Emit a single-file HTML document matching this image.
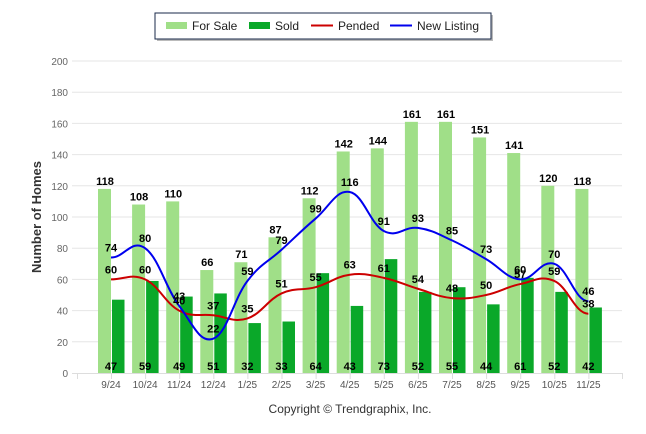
<!DOCTYPE html>
<html><head><meta charset="utf-8"><style>
html,body{margin:0;padding:0;background:#fff;}
svg{display:block;font-family:"Liberation Sans",Arial,sans-serif;}
</style></head><body>
<svg id="c" width="646" height="434" viewBox="0 0 646 434" xmlns="http://www.w3.org/2000/svg">
<rect x="157" y="15" width="336" height="26" fill="#bbb"/>
<rect x="155" y="13" width="336" height="26" fill="#fff" stroke="#1a2a4a" stroke-width="1"/>
<rect x="166" y="22" width="21" height="7" fill="#a0df88"/>
<text x="192" y="30" font-size="12" fill="#222">For Sale</text>
<rect x="249" y="22" width="21" height="7" fill="#0aa829"/>
<text x="275" y="30" font-size="12" fill="#222">Sold</text>
<line x1="311" y1="25.5" x2="333" y2="25.5" stroke="#cc0000" stroke-width="2"/>
<text x="338" y="30" font-size="12" fill="#222">Pended</text>
<line x1="390" y1="25.5" x2="412" y2="25.5" stroke="#0000ee" stroke-width="2"/>
<text x="417" y="30" font-size="12" fill="#222">New Listing</text>
<g id="grid"></g>
<g id="bars"></g>
<g id="lines"></g>
<g id="labels" font-size="11" font-weight="bold" fill="#000" text-anchor="middle"></g>
<text transform="translate(41,217) rotate(-90)" text-anchor="middle" font-size="13" font-weight="bold" fill="#333">Number of Homes</text>
<text x="350" y="413" text-anchor="middle" font-size="12" fill="#333">Copyright © Trendgraphix, Inc.</text>
</svg>
<script>
var fs=[118,108,110,66,71,87,112,142,144,161,161,151,141,120,118];
var sd=[47,59,49,51,32,33,64,43,73,52,55,44,61,52,42];
var pd=[60,60,40,37,35,51,55,63,61,54,48,50,57,59,38];
var nl=[74,80,43,22,59,79,99,116,91,93,85,73,60,70,46];
var cats=["9/24","10/24","11/24","12/24","1/25","2/25","3/25","4/25","5/25","6/25","7/25","8/25","9/25","10/25","11/25"];
function Y(v){return 373-v*1.56;}
function X(i){return 111+i*34.1;}
var ns="http://www.w3.org/2000/svg";
function el(p,t,a,txt){var e=document.createElementNS(ns,t);for(var k in a)e.setAttribute(k,a[k]);if(txt!=null)e.textContent=txt;document.getElementById(p).appendChild(e);return e;}
for(var v=0;v<=200;v+=20){var y=Y(v);if(v>0)el("grid","line",{x1:72,x2:622,y1:y,y2:y,stroke:"#e6e6e6","stroke-width":1});
el("grid","text",{x:68,y:y+4,"text-anchor":"end","font-size":"10",fill:"#666"},v);}
el("grid","line",{x1:72,x2:622,y1:373.5,y2:373.5,stroke:"#ddd"});
el("grid","line",{x1:77.5,x2:77.5,y1:373,y2:379,stroke:"#ddd"});
for(var i=0;i<15;i++){var x=X(i);
el("grid","line",{x1:x+0.5,x2:x+0.5,y1:373,y2:379,stroke:"#ddd"});
el("grid","text",{x:x,y:388,"text-anchor":"middle","font-size":"10",fill:"#555"},cats[i]);
el("bars","rect",{x:x-13,y:Y(fs[i]),width:13,height:fs[i]*1.56,fill:"#a0df88"});
el("bars","rect",{x:x+1,y:Y(sd[i]),width:12.5,height:sd[i]*1.56,fill:"#0aa829"});
}
el("grid","line",{x1:622.5,x2:622.5,y1:373,y2:379,stroke:"#ddd"});
function path(d){var p=d.map(function(v,i){return [X(i),Y(v)];});var s="M"+p[0][0]+","+p[0][1];
for(var i=0;i<p.length-1;i++){var a=p[i-1]||p[i],b=p[i],c=p[i+1],e=p[i+2]||c;
var c1=[b[0]+(c[0]-a[0])*0.2,b[1]+(c[1]-a[1])*0.2],c2=[c[0]-(e[0]-b[0])*0.2,c[1]-(e[1]-b[1])*0.2];
if(i==0)c1=[b[0]+(c[0]-b[0])*0.4,b[1]];if(i==p.length-2)c2=[c[0]-(c[0]-b[0])*0.4,c[1]];
s+=" C"+c1+" "+c2+" "+c;}return s;}
el("lines","path",{d:path(pd),fill:"none",stroke:"#cc0000","stroke-width":2});
el("lines","path",{d:path(nl),fill:"none",stroke:"#0000ee","stroke-width":2});
for(var i=0;i<15;i++){var x=X(i);
el("labels","text",{x:x-6,y:Y(fs[i])-4},fs[i]);
el("labels","text",{x:x,y:370},sd[i]);
el("labels","text",{x:x,y:Y(pd[i])-6},pd[i]);
el("labels","text",{x:x,y:Y(nl[i])-6},nl[i]);}
</script>
</body></html>
